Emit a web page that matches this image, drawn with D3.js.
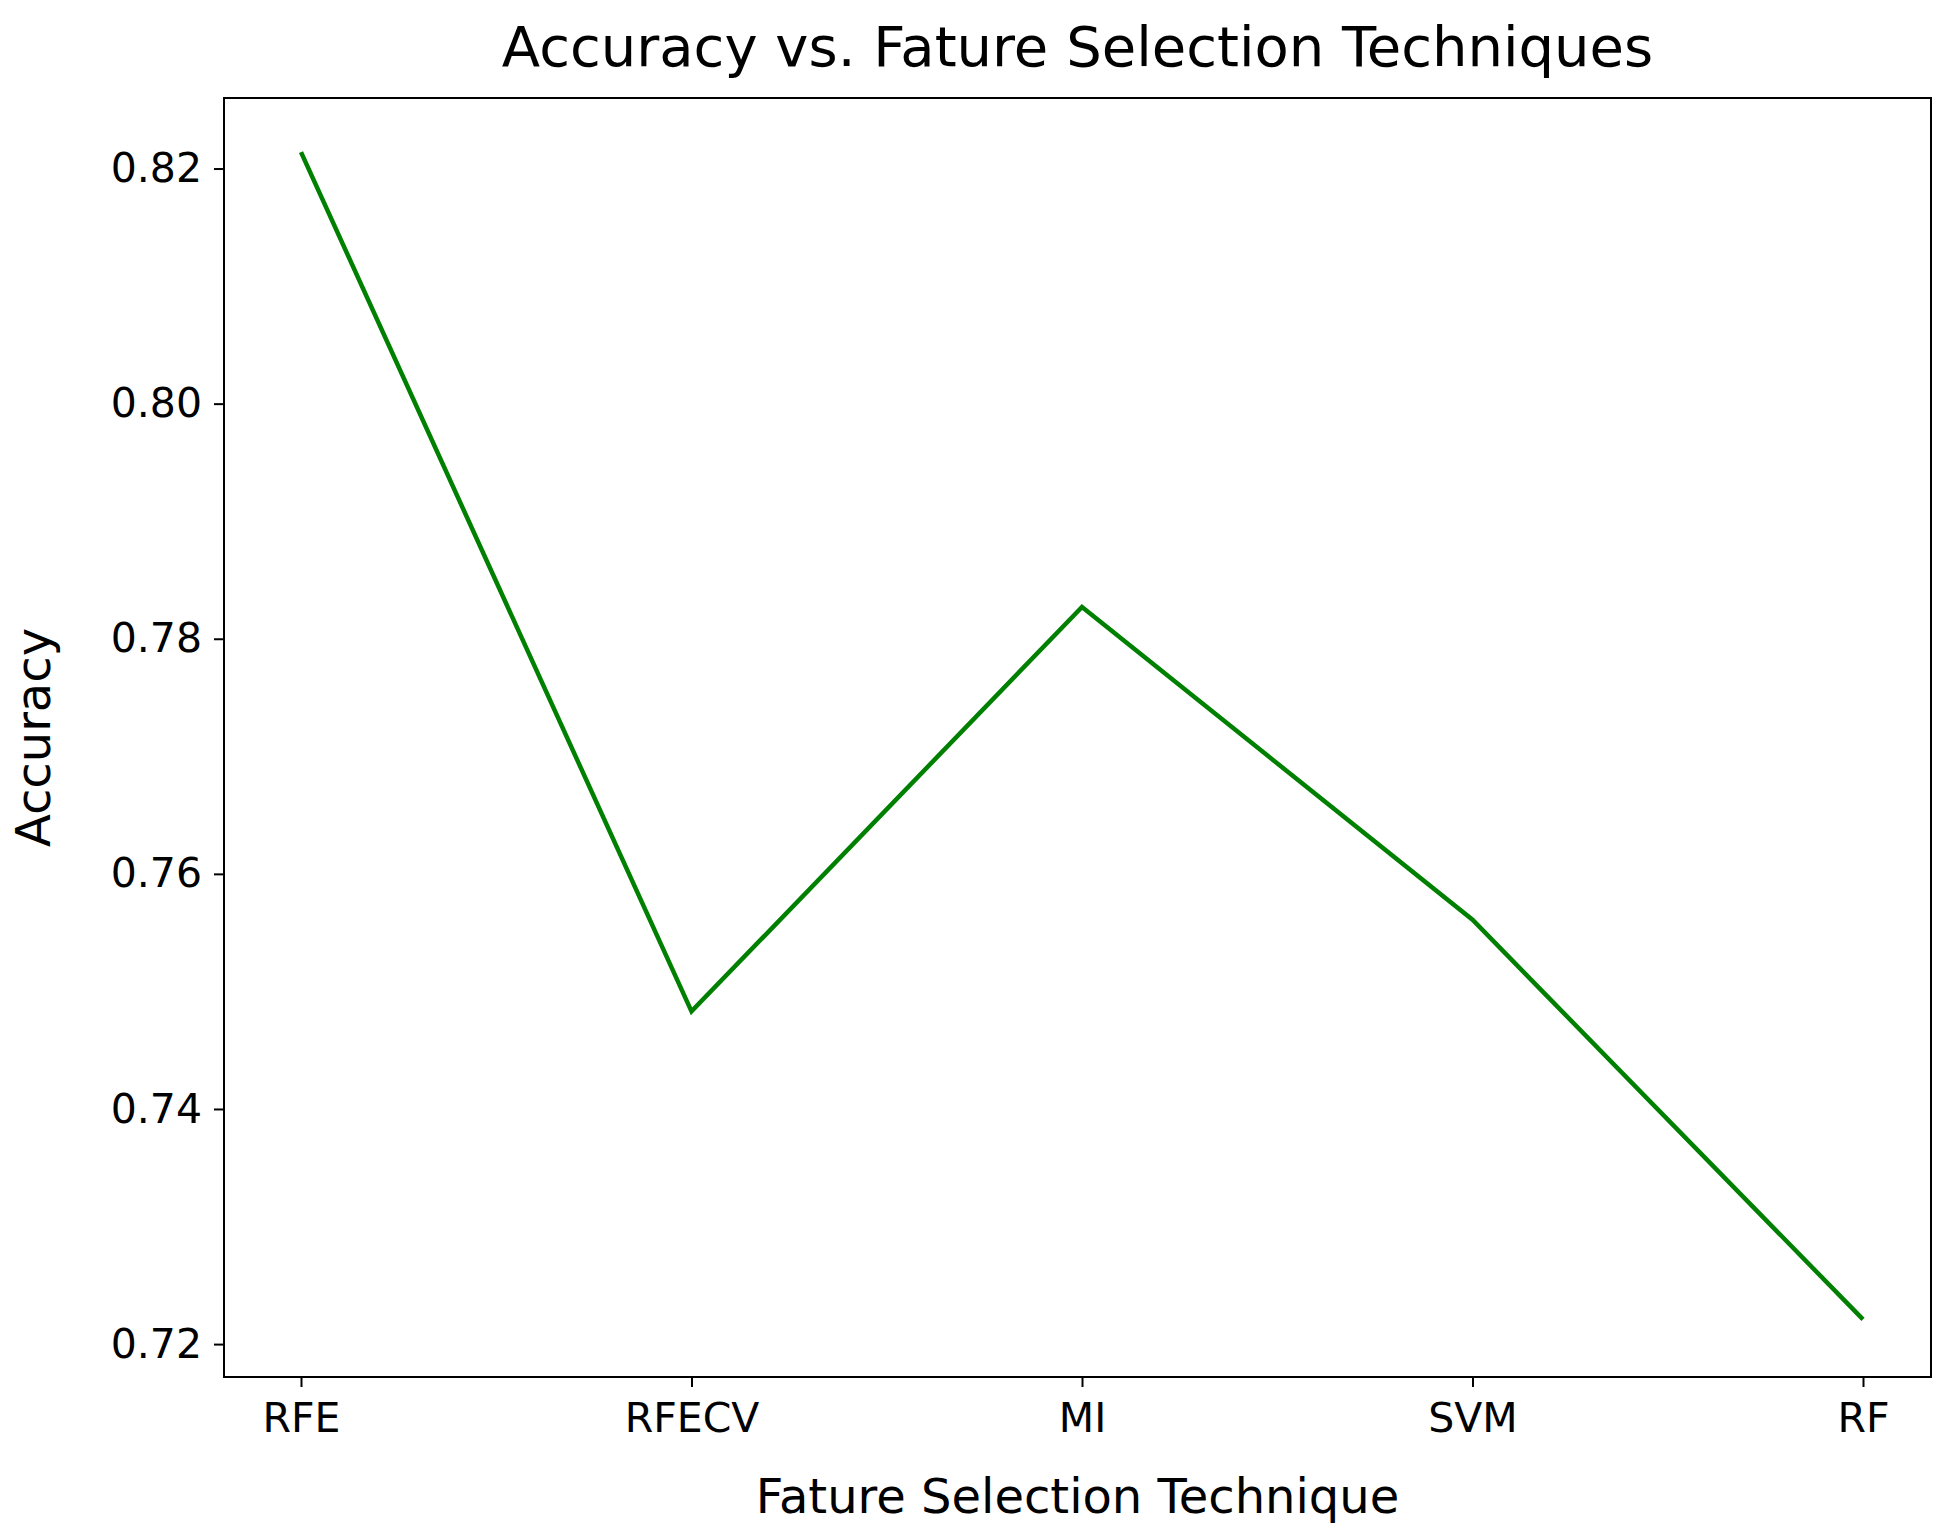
<!DOCTYPE html>
<html><head><meta charset="utf-8">
<script src="https://cdn.jsdelivr.net/npm/d3@7"></script>
<style>body{margin:0;background:#fff}</style></head>
<body><svg id="c" width="1960" height="1533"></svg>
<script>
const categories=["RFE","RFECV","MI","SVM","RF"];
const accuracy=[0.8214,0.7483,0.7827,0.7561,0.7221];
const yTicks=[0.72,0.74,0.76,0.78,0.80,0.82];
const svg=d3.select("#c");
const L=224,R=1931,T=98,B=1377;
const font="DejaVu Sans, sans-serif";
const x=d3.scalePoint().domain(categories).range([301,1863]);
const y=d3.scaleLinear().domain([0.7172,0.826]).range([B,T]);
const ya=svg.append("g").attr("transform",`translate(${L},0)`).call(d3.axisLeft(y).tickValues(yTicks).tickFormat(d3.format(".2f")).tickSize(10).tickPadding(12));
const xa=svg.append("g").attr("transform",`translate(0,${B})`).call(d3.axisBottom(x).tickSize(10).tickPadding(16));
[ya,xa].forEach(a=>{a.select(".domain").remove();a.selectAll("line").attr("stroke","#000").attr("stroke-width",2);a.selectAll("text").attr("font-family",font).attr("font-size",41).attr("fill","#000");});
svg.append("rect").attr("x",L).attr("y",T).attr("width",R-L).attr("height",B-T).attr("fill","none").attr("stroke","#000").attr("stroke-width",2);
svg.append("path").datum(accuracy).attr("fill","none").attr("stroke","green").attr("stroke-width",4.5)
 .attr("d",d3.line().x((d,i)=>x(categories[i])).y(d=>y(d)));
svg.append("text").attr("x",(L+R)/2).attr("y",66).attr("text-anchor","middle").attr("font-family",font).attr("font-size",56).text("Accuracy vs. Fature Selection Techniques");
svg.append("text").attr("x",(L+R)/2).attr("y",1513).attr("text-anchor","middle").attr("font-family",font).attr("font-size",48).text("Fature Selection Technique");
svg.append("text").attr("transform",`translate(50,${(T+B)/2}) rotate(-90)`).attr("text-anchor","middle").attr("font-family",font).attr("font-size",48).text("Accuracy");
</script></body></html>
